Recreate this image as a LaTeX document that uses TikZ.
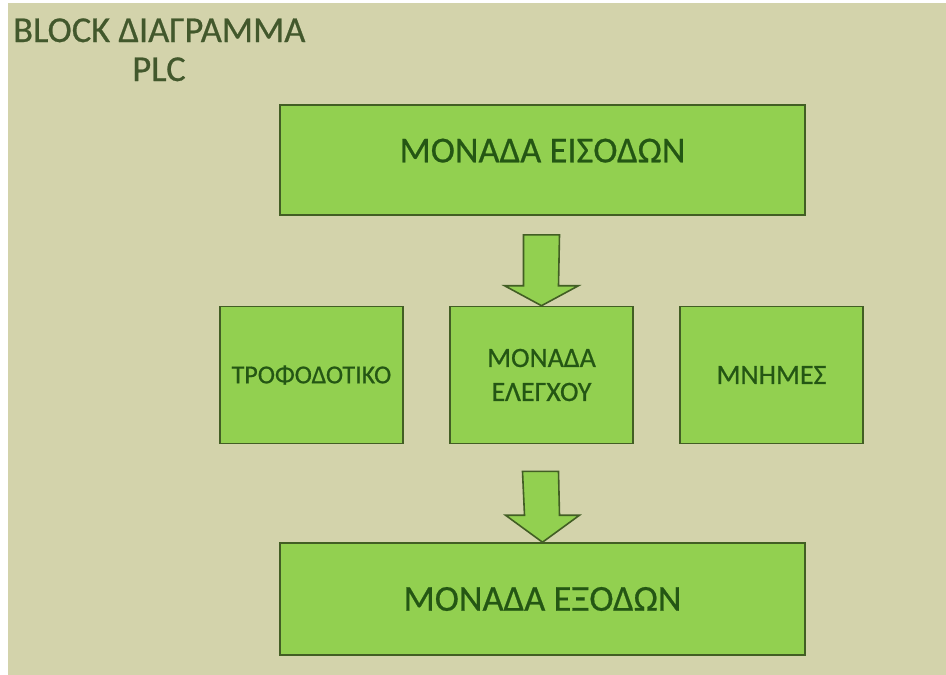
\documentclass[tikz,border=0pt]{standalone}
\usepackage{fontspec}
\setmainfont{Carlito}[FakeBold=0.6]
\usetikzlibrary{calc}
\definecolor{bgtan}{RGB}{211,211,171}
\definecolor{boxgreen}{RGB}{146,208,80}
\definecolor{boxline}{RGB}{66,94,36}
\definecolor{boxtext}{RGB}{36,86,20}
\definecolor{titletext}{RGB}{66,88,44}
\begin{document}
\begin{tikzpicture}[x=1pt,y=-1pt,
  box/.style={draw=boxline, fill=boxgreen, line width=1.6pt, inner sep=0pt, text=boxtext, align=center},
  bigbox/.style={box, minimum width=525pt, font=\fontsize{36.5}{40}\selectfont},
  midbox/.style={box, minimum width=183pt, minimum height=137pt, font=\fontsize{28}{34}\selectfont},
  blockarrow/.style={draw=boxline, fill=boxgreen, line width=1.6pt, line join=miter},
  title/.style={text=titletext, inner sep=0pt, font=\fontsize{36.5}{40}\selectfont}]
\useasboundingbox (0,0) rectangle (946,675);
\fill[white] (0,0) rectangle (946,675);
\fill[bgtan] (8,3) rectangle (946,675);
% title
\node[title, anchor=base west] (t1) at (13,42) {BLOCK ΔΙΑΓΡΑΜΜΑ};
\node[title, anchor=base] (t2) at (159,81) {PLC};
% boxes
\node[bigbox, minimum height=110pt] (in) at (542.5,160) {\raisebox{19pt}{ΜΟΝΑΔΑ ΕΙΣΟΔΩΝ}};
\node[midbox] (pwr) at (311.5,375) {\fontsize{26}{30}\selectfont\raisebox{-2pt}{ΤΡΟΦΟΔΟΤΙΚΟ}};
\node[midbox] (cpu) at (541.5,375) {ΜΟΝΑΔΑ\\ΕΛΕΓΧΟΥ};
\node[midbox] (mem) at (771.5,375) {\raisebox{-2pt}{ΜΝΗΜΕΣ}};
\node[bigbox, minimum height=112pt] (out) at (542.5,599) {ΜΟΝΑΔΑ ΕΞΟΔΩΝ};
% block arrows
\draw[blockarrow] (cpu.north)
  -- ++(-37,-20) -- ++(19,0) -- ($(in.south)+(-19,19)$)
  -- ($(in.south)+(17,19)$) -- ($(cpu.north)+(17,-20)$) -- ++(20,0) -- cycle;
\draw[blockarrow] (out.north)
  -- ++(-37,-27) -- ++(19,0) -- ($(cpu.south)+(-19,27)$)
  -- ($(cpu.south)+(17,27)$) -- ($(out.north)+(17,-27)$) -- ++(20,0) -- cycle;
\end{tikzpicture}
\end{document}
